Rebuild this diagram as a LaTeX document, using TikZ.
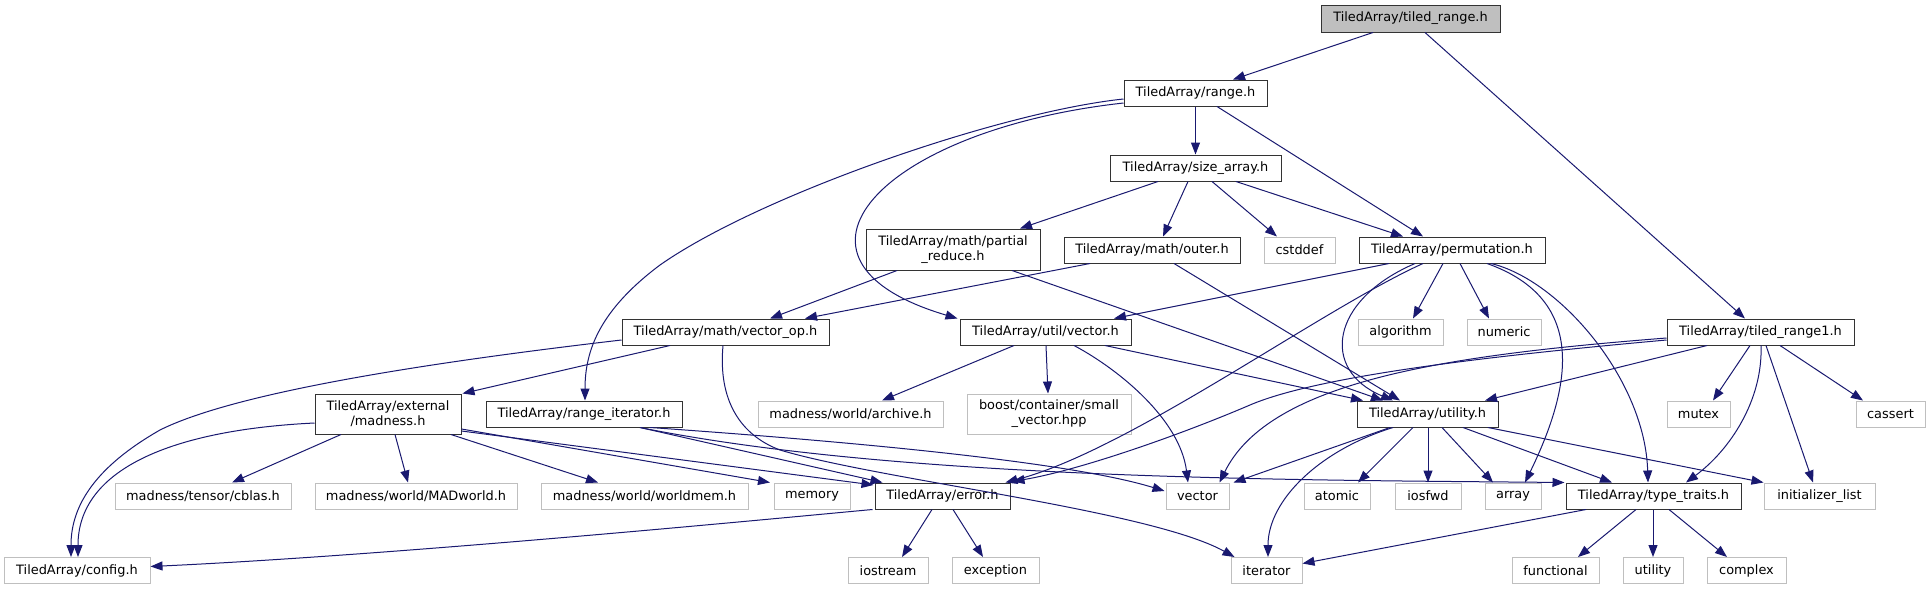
\documentclass[tikz,border=0pt]{standalone}
\usepackage{fontspec}
\setmainfont{DejaVu Sans}
\usetikzlibrary{arrows.meta,calc}
\definecolor{edgec}{HTML}{191970}
\definecolor{greyb}{HTML}{BFBFBF}
\definecolor{darkb}{HTML}{333333}
\begin{document}
\begin{tikzpicture}[x=1pt,y=-1pt,
  every node/.style={font=\fontsize{12.9}{15}\selectfont, inner sep=0pt, align=center, line width=1pt},
  sz/.style 2 args={minimum width=#1pt, minimum height=#2pt},
  hb/.style={draw=darkb, fill=white},
  hg/.style={draw=greyb, fill=white},
  hroot/.style={draw=darkb, fill=greyb},
  edg/.style={draw=edgec, line width=1pt, -{Triangle[length=12pt,width=9pt]}},
]
\useasboundingbox (0,0) rectangle (1931,589);
\fill[white] (0,0) rectangle (1931,589);

% nodes
\node[hroot,sz={179}{27}] (root) at (1410.5,18.5) {TiledArray/tiled\_range.h};
\node[hb,sz={143}{26}] (range) at (1195.5,93) {TiledArray/range.h};
\node[hb,sz={171}{26}] (sizearr) at (1195.5,168) {TiledArray/size\_array.h};
\node[hb,sz={174}{41}] (partial) at (953,249.5) {TiledArray/math/partial\\\_reduce.h};
\node[hb,sz={176}{26}] (outer) at (1152,250) {TiledArray/math/outer.h};
\node[hg,sz={71}{26}] (cstddef) at (1299.5,250) {cstddef};
\node[hb,sz={186}{26}] (perm) at (1452,250) {TiledArray/permutation.h};
\node[hb,sz={207}{26}] (vecop) at (725.5,332) {TiledArray/math/vector\_op.h};
\node[hb,sz={171}{26}] (uvec) at (1045.5,332) {TiledArray/util/vector.h};
\node[hg,sz={85}{26}] (algo) at (1400.5,332) {algorithm};
\node[hg,sz={74}{26}] (numeric) at (1504,332) {numeric};
\node[hb,sz={187}{26}] (tr1) at (1760.5,332) {TiledArray/tiled\_range1.h};
\node[hb,sz={146}{40}] (madness) at (388,414) {TiledArray/external\\/madness.h};
\node[hb,sz={196}{26}] (rit) at (584,414) {TiledArray/range\_iterator.h};
\node[hg,sz={185}{26}] (archive) at (850.5,414) {madness/world/archive.h};
\node[hg,sz={164}{40}] (small) at (1049,414) {boost/container/small\\\_vector.hpp};
\node[hb,sz={141}{26}] (utilh) at (1427.5,414) {TiledArray/utility.h};
\node[hg,sz={63}{26}] (mutex) at (1698.5,414) {mutex};
\node[hg,sz={69}{26}] (cassert) at (1890.5,414) {cassert};
\node[hg,sz={176}{26}] (cblas) at (203,496) {madness/tensor/cblas.h};
\node[hg,sz={202}{26}] (madw) at (416,496) {madness/world/MADworld.h};
\node[hg,sz={207}{26}] (wmem) at (644.5,496) {madness/world/worldmem.h};
\node[hg,sz={76}{26}] (memory) at (812,496) {memory};
\node[hb,sz={135}{26}] (error) at (942.5,496) {TiledArray/error.h};
\node[hg,sz={63}{26}] (vector) at (1197.5,496) {vector};
\node[hg,sz={66}{26}] (atomic) at (1337,496) {atomic};
\node[hg,sz={66}{26}] (iosfwd) at (1428,496) {iosfwd};
\node[hg,sz={56}{26}] (array) at (1513,496) {array};
\node[hb,sz={175}{26}] (ttraits) at (1653.5,496) {TiledArray/type\_traits.h};
\node[hg,sz={111}{26}] (initl) at (1819.5,496) {initializer\_list};
\node[hg,sz={146}{26}] (config) at (77,570.5) {TiledArray/config.h};
\node[hg,sz={80}{26}] (iostream) at (888,570.5) {iostream};
\node[hg,sz={87}{26}] (exception) at (995.5,570.5) {exception};
\node[hg,sz={71}{26}] (iterator) at (1266.5,570.5) {iterator};
\node[hg,sz={87}{26}] (functional) at (1555.5,570.5) {functional};
\node[hg,sz={60}{26}] (utility) at (1653,570.5) {utility};
\node[hg,sz={79}{26}] (complex) at (1746.5,570.5) {complex};

% edges
\draw[edg] ($(root.south)+(-37.5,0)$) -- ($(range.north)+(37.5,0)$);
\draw[edg] ($(root.south)+(14.5,0)$) -- ($(tr1.north)+(-15.5,0)$);
\draw[edg] (range.south) -- (sizearr.north);
\draw[edg] ($(range.south)+(21.5,0)$) -- ($(perm.north)+(-29,0)$);
\draw[edg] ($(range.west)+(0,10)$) .. controls (880,130) and (760,260) .. ($(uvec.north west)+(-2,0)$);
\draw[edg] ($(range.west)+(0,6)$) .. controls (1000,112) and (760,195) .. (660,265) .. controls (600,310) and (585,350) .. ($(rit.north)+(1,0)$);
\draw[edg] ($(sizearr.south)+(-37.5,0)$) -- ($(partial.north)+(67,0)$);
\draw[edg] ($(sizearr.south)+(-7.5,0)$) -- ($(outer.north)+(11,0)$);
\draw[edg] ($(sizearr.south)+(16.5,0)$) -- ($(cstddef.north)+(-22.5,0)$);
\draw[edg] ($(sizearr.south)+(40.5,0)$) -- ($(perm.north)+(-49,0)$);
\draw[edg] ($(partial.south)+(-56,0)$) -- ($(vecop.north)+(44.5,0)$);
\draw[edg] ($(outer.south)+(-62,0)$) -- ($(vecop.north)+(79.5,0)$);
\draw[edg] ($(partial.south)+(59,0)$) -- ($(utilh.north)+(-44.5,0)$);
\draw[edg] ($(outer.south)+(22,0)$) -- ($(utilh.north)+(-27.5,0)$);
\draw[edg] ($(uvec.south)+(59.5,0)$) -- ($(utilh.north)+(-64.5,0)$);
\draw[edg] ($(perm.south)+(-63,0)$) -- ($(uvec.north)+(68.5,0)$);
\draw[edg] ($(perm.south)+(-9,0)$) -- ($(algo.north)+(12.5,0)$);
\draw[edg] ($(perm.south)+(8,0)$) -- ($(numeric.north)+(-15,0)$);
\draw[edg] ($(perm.south)+(-37,0)$) .. controls (1330,300) and (1320,370) .. ($(utilh.north)+(-34.5,0)$);
\draw[edg] ($(perm.south)+(-29,0)$) .. controls (1320,310) and (1130,450) .. ($(error.north east)+(-5,0)$);
\draw[edg] ($(perm.south)+(35,0)$) .. controls (1590,300) and (1570,390) .. ($(array.north)+(12,0)$);
\draw[edg] ($(perm.south)+(39,0)$) .. controls (1560,280) and (1645,380) .. ($(ttraits.north)+(-5.5,0)$);
\draw[edg] ($(vecop.south)+(-55.5,0)$) -- ($(madness.north east)+(1,0)$);
\draw[edg] ($(vecop.west)+(0,8)$) .. controls (450,360) and (240,390) .. (160,430) .. controls (90,470) and (71,510) .. ($(config.north)+(-6,0)$);
\draw[edg] ($(vecop.south)+(-2.5,0)$) .. controls (718,400) and (740,435) .. (780,450) .. controls (880,480) and (1150,510) .. ($(iterator.north west)+(4,0)$);
\draw[edg] ($(madness.west)+(0,9)$) .. controls (170,430) and (78,470) .. ($(config.north)+(1,0)$);
\draw[edg] ($(madness.south)+(-47,0)$) -- ($(cblas.north)+(29,0)$);
\draw[edg] ($(madness.south)+(7,0)$) -- ($(madw.north)+(-8,0)$);
\draw[edg] ($(madness.south)+(63,0)$) -- ($(wmem.north)+(-46.5,0)$);
\draw[edg] ($(madness.east)+(0,15)$) -- ($(memory.north)+(-42,0)$);
\draw[edg] ($(madness.east)+(0,17)$) -- ($(error.west)+(-1,-11)$);
\draw[edg] ($(rit.south)+(56,0)$) -- ($(error.north west)+(8,0)$);
\draw[edg] ($(rit.south)+(66,0)$) .. controls (900,445) and (1080,465) .. ($(vector.west)+(-1,-5)$);
\draw[edg] ($(rit.south)+(56,0)$) .. controls (900,480) and (1300,480) .. ($(ttraits.north west)+(-1,0)$);
\draw[edg] ($(uvec.south)+(-31.5,0)$) -- ($(archive.north)+(31.5,0)$);
\draw[edg] ($(uvec.south)+(0.5,0)$) -- ($(small.north)+(-1,0)$);
\draw[edg] ($(uvec.south)+(28.5,0)$) .. controls (1120,370) and (1180,420) .. ($(vector.north)+(-9.5,0)$);
\draw[edg] ($(tr1.south)+(-53.5,0)$) -- ($(utilh.north)+(57.5,0)$);
\draw[edg] ($(tr1.west)+(0,8)$) .. controls (1500,355) and (1320,375) .. (1250,405) .. controls (1180,435) and (1080,470) .. ($(error.north east)+(2,-1)$);
\draw[edg] ($(tr1.west)+(0,6)$) .. controls (1450,355) and (1270,380) .. ($(vector.north east)+(-10,0)$);
\draw[edg] ($(tr1.south)+(-10.5,0)$) -- ($(mutex.north)+(14.5,0)$);
\draw[edg] ($(tr1.south)+(19.5,0)$) -- ($(cassert.north)+(-27.5,0)$);
\draw[edg] ($(tr1.south)+(0.5,0)$) .. controls (1763,400) and (1730,450) .. ($(ttraits.north)+(32.5,0)$);
\draw[edg] ($(tr1.south)+(5.5,0)$) -- ($(initl.north)+(-6.5,0)$);
\draw[edg] ($(utilh.south)+(-37.5,0)$) -- ($(vector.north east)+(4,0)$);
\draw[edg] ($(utilh.south)+(-34.5,0)$) .. controls (1320,450) and (1268,500) .. ($(iterator.north)+(1.5,0)$);
\draw[edg] ($(utilh.south)+(-14.5,0)$) -- ($(atomic.north)+(21,0)$);
\draw[edg] ($(utilh.south)+(0.5,0)$) -- (iosfwd.north);
\draw[edg] ($(utilh.south)+(14.5,0)$) -- ($(array.north)+(-20,0)$);
\draw[edg] ($(utilh.south)+(35.5,0)$) -- ($(ttraits.north)+(-41.5,0)$);
\draw[edg] ($(utilh.south)+(60.5,0)$) -- (initl.north west);
\draw[edg] ($(error.south west)+(-2,0)$) .. controls (780,518) and (400,555) .. ($(config.east)+(0,-4)$);
\draw[edg] ($(error.south)+(-10.5,0)$) -- ($(iostream.north)+(14,0)$);
\draw[edg] ($(error.south)+(10.5,0)$) -- ($(exception.north)+(-12.5,0)$);
\draw[edg] ($(ttraits.south)+(-67.5,0)$) -- ($(iterator.east)+(0,-7)$);
\draw[edg] ($(ttraits.south)+(-17.5,0)$) -- ($(functional.north)+(22.5,0)$);
\draw[edg] ($(ttraits.south)+(-0.5,0)$) -- (utility.north);
\draw[edg] ($(ttraits.south)+(15.5,0)$) -- ($(complex.north)+(-19.5,0)$);
\end{tikzpicture}
\end{document}
